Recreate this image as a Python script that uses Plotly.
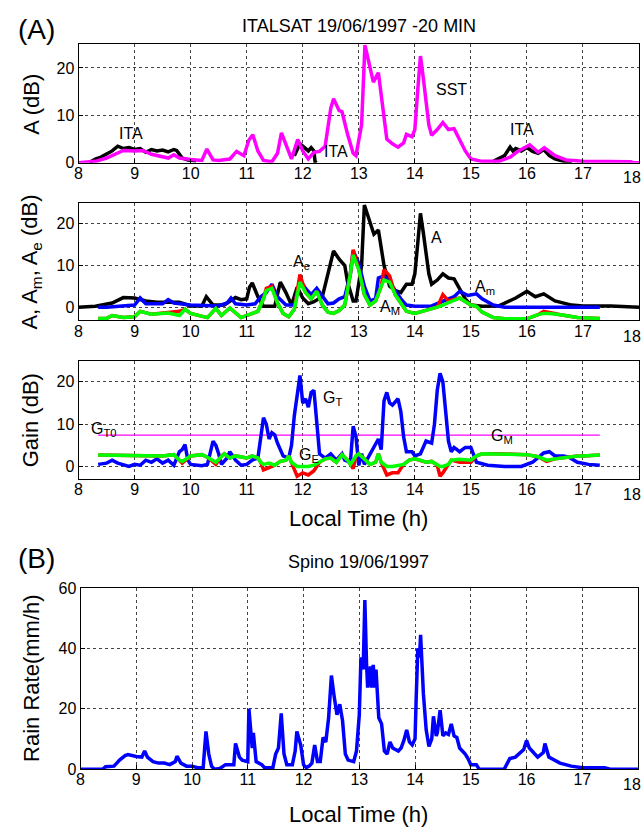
import plotly.graph_objects as go

W, H = 644, 834
F = "Liberation Sans, Arial, sans-serif"

# ---------------- data ----------------
# Panel 1: A (dB)
p1_sst_t = [8.0, 8.3, 8.5, 8.7, 8.8, 9.0, 9.15, 9.3, 9.5, 9.6, 9.7, 9.8, 10.0, 10.2, 10.29, 10.4, 10.5, 10.7, 10.82, 10.95,
            11.04, 11.11, 11.2, 11.3, 11.45, 11.55, 11.62, 11.7, 11.8, 11.91, 12.0, 12.1, 12.2, 12.3, 12.4, 12.5, 12.55, 12.65, 12.7, 12.8,
            12.9, 12.95, 13.05, 13.11, 13.2, 13.26, 13.35, 13.45, 13.5, 13.6, 13.7, 13.8, 13.85, 13.95, 14.0, 14.05, 14.1, 14.15, 14.25, 14.3,
            14.4, 14.5, 14.6, 14.7, 14.8, 14.9, 15.0, 15.2, 15.5, 15.7, 15.85, 16.0, 16.05, 16.2, 16.31, 16.5, 16.7, 17.0, 17.5, 17.85,
            17.9, 18.0]
p1_sst = [0.0, 0.3, 1.0, 2.0, 2.6, 2.5, 2.6, 1.8, 1.3, 1.0, 1.7, 1.0, 0.7, 0.5, 2.9, 0.6, 0.5, 0.8, 2.4, 1.5,
          4.8, 5.9, 2.5, 0.5, 0.2, 2.0, 6.3, 4.0, 0.8, 4.9, 2.5, 0.8, 2.2, 2.4, 3.5, 11.5, 13.5, 11.0, 10.8, 6.0,
          2.0, 1.5, 8.0, 24.8, 20.5, 17.0, 19.0, 10.0, 5.0, 4.0, 3.3, 4.2, 6.0, 5.5, 7.0, 15.0, 22.5, 18.0, 8.0, 5.8,
          7.0, 8.5, 7.0, 7.2, 5.0, 2.5, 0.8, 0.3, 0.3, 1.2, 2.5, 3.4, 3.8, 2.2, 3.2, 1.5, 0.6, 0.3, 0.2, 0.2,
          0.0, 0.0]
p1_ita_t = [8.2, 8.3, 8.4, 8.5, 8.6, 8.7, 8.8, 8.9, 9.0, 9.1, 9.2, 9.3, 9.4, 9.5, 9.6, 9.7, 9.75, 9.85, 9.95, 10.1, None,
            11.85, 11.95, 12.0, 12.05, 12.1, 12.15, 12.2, 12.22, 12.25, None,
            15.4, 15.6, 15.7, 15.75, 15.8, 15.9, 16.0, 16.1, 16.2, 16.3, 16.4, 16.5, 16.7, 16.8]
p1_ita = [0.1, 0.8, 1.2, 1.8, 2.5, 3.5, 3.0, 3.2, 2.8, 3.0, 2.2, 2.8, 2.5, 2.7, 2.3, 2.8, 2.6, 1.0, 0.6, 0.4, None,
          1.5, 4.0, 3.5, 3.0, 2.5, 3.2, 2.5, 0.2, 0.0, None,
          0.3, 1.5, 3.3, 2.5, 3.0, 2.5, 3.2, 2.4, 2.0, 2.8, 1.5, 0.8, 0.2, 0.0]

# Panel 2: A, Am, Ae, AM (dB)
p2_a_t = [8.0, 8.3, 8.6, 8.8, 9.0, 9.2, 9.4, 9.6, 9.8, 10.0, 10.2, 10.28, 10.4, 10.6, 10.8, 10.9, 11.0, 11.05, 11.1, 11.2,
          11.3, 11.5, 11.6, 11.7, 11.8, 11.9, 12.0, 12.1, 12.2, 12.35, 12.45, 12.55, 12.65, 12.75, 12.8, 12.9, 12.95, 13.05, 13.1, 13.2,
          13.27, 13.35, 13.45, 13.55, 13.65, 13.75, 13.85, 13.95, 14.0, 14.05, 14.1, 14.15, 14.25, 14.3, 14.4, 14.5, 14.6, 14.7, 14.8, 14.9,
          15.0, 15.2, 15.5, 15.8, 16.0, 16.15, 16.3, 16.5, 16.8, 17.0, 17.5, 17.8, 18.0]
p2_a = [0.0, 0.2, 1.0, 2.3, 2.2, 1.5, 1.2, 1.3, 1.2, 0.3, 0.3, 2.5, 0.5, 0.5, 2.3, 1.8, 2.0, 4.8, 5.8, 2.5,
        0.2, 0.2, 6.0, 3.5, 0.5, 4.8, 2.2, 0.8, 1.3, 2.5, 8.0, 13.5, 11.5, 10.0, 6.0, 1.5, 1.5, 10.0, 24.5, 20.5,
        17.5, 18.5, 10.0, 5.0, 4.0, 3.5, 5.5, 5.5, 8.0, 15.0, 22.5, 18.0, 8.0, 5.5, 6.5, 8.0, 7.0, 6.8, 4.5, 2.0,
        0.5, 0.2, 0.3, 2.2, 3.8, 2.5, 3.2, 1.5, 0.5, 0.3, 0.3, 0.2, 0.0]
p2_am_t = [8.35, 8.5, 9.0, 9.1, 9.2, 9.5, 9.6, 9.7, 10.0, 10.3, 10.5, 10.65, 10.72, 10.8, 11.0, 11.15, 11.25, 11.35, 11.45, 11.55,
           11.7, 11.85, 11.95, 12.05, 12.15, 12.25, 12.35, 12.45, 12.55, 12.65, 12.75, 12.85, 12.9, 13.0, 13.1, 13.2, 13.3, 13.35, 13.45, 13.55,
           13.65, 13.75, 13.85, 14.0, 14.3, 14.5, 14.7, 14.8, 14.95, 15.1, 15.2, 15.4, 15.6, 16.0, 17.3]
p2_am = [0.0, 0.0, 0.5, 2.2, 0.8, 0.8, 1.8, 1.0, 0.5, 0.3, 0.3, 1.0, 2.2, 0.8, 0.5, 0.8, 2.5, 3.5, 5.5, 2.5,
         0.5, 0.5, 6.5, 4.5, 3.0, 4.5, 2.5, 0.8, 1.0, 2.0, 2.5, 8.0, 13.5, 10.5, 5.0, 1.5, 2.0, 7.0, 7.5, 6.0,
         4.0, 2.0, 0.5, 0.2, 0.3, 1.5, 2.5, 3.8, 2.8, 3.2, 2.0, 0.5, 0.0, 0.0, 0.0]
p2_ge_t = [8.35, 8.5, 8.6, 8.8, 9.0, 9.1, 9.3, 9.6, 9.8, 9.9, 10.0, 10.3, 10.45, 10.55, 10.7, 10.9, 11.1, 11.2, 11.3, 11.35,
           11.45, 11.55, 11.65, 11.75, 11.85, 11.95, 12.05, 12.15, 12.25, 12.35, 12.45, 12.55, 12.65, 12.75, 12.85, 12.9, 13.0, 13.1, 13.2, 13.3,
           13.4, 13.45, 13.55, 13.65, 13.75, 13.85, 14.0, 14.2, 14.4, 14.5, 14.6, 14.8, 15.0, 15.1, 15.2, 15.4, 15.6, 16.0, 16.2, 16.3,
           16.4, 16.6, 16.9, 17.3]
p2_aM = [-2.7, -2.7, -2.0, -2.5, -2.3, -1.0, -1.7, -1.4, -2.0, -0.5, -1.5, -2.5, -0.3, -2.0, -0.2, -2.5, -1.5, -1.0, 2.0, 4.0,
         4.5, 1.0, -1.5, -2.3, -0.5, 6.0, 3.5, 2.0, 3.8, 0.5, -1.2, -1.5, -0.8, 0.5, 8.0, 12.5, 9.0, 3.0, 0.5, 1.5,
         5.0, 6.5, 6.0, 3.0, 1.0, -1.0, -1.5, -0.8, 0.0, 0.5, 1.0, 2.2, 0.5, 0.2, -1.2, -2.5, -2.8, -2.8, -1.8, -1.5,
         -1.5, -1.8, -2.5, -2.7]
p2_ae = [-2.7, -2.7, -2.0, -2.5, -2.3, -1.0, -1.7, -1.4, -1.0, -0.5, -1.5, -2.5, -0.3, -2.0, -0.2, -2.5, -1.5, -1.0, 2.0, 4.5,
         5.0, 1.0, -1.5, -2.3, -0.5, 7.8, 3.5, 2.0, 3.8, 0.5, -1.2, -1.5, -0.8, 0.5, 8.0, 13.8, 9.0, 3.0, 0.5, 1.5,
         5.0, 9.0, 7.5, 3.0, 1.0, -1.0, -1.5, -0.8, 0.0, 3.0, 1.5, 2.2, 0.5, 0.2, -1.2, -2.5, -2.8, -2.8, -1.8, -1.0,
         -1.2, -1.8, -2.5, -2.7]

# Panel 3: Gain (dB)
p3_gt_t = [8.35, 8.5, 8.6, 8.7, 8.9, 9.0, 9.1, 9.2, 9.3, 9.4, 9.5, 9.6, 9.7, 9.8, 9.85, 9.9, 9.95, 10.0, 10.2, 10.3,
           10.4, 10.45, 10.5, 10.55, 10.65, 10.7, 10.8, 10.9, 11.0, 11.1, 11.2, 11.25, 11.3, 11.35, 11.4, 11.45, 11.5, 11.55, 11.65, 11.75,
           11.8, 11.85, 11.9, 11.95, 12.0, 12.05, 12.1, 12.15, 12.2, 12.25, 12.3, 12.4, 12.5, 12.6, 12.7, 12.75, 12.85, 12.9, 12.95, 13.0,
           13.05, 13.1, 13.2, 13.3, 13.35, 13.4, 13.45, 13.5, 13.55, 13.6, 13.7, 13.75, 13.8, 13.85, 13.95, 14.0, 14.1, 14.2, 14.3, 14.35,
           14.4, 14.45, 14.5, 14.55, 14.6, 14.65, 14.7, 14.8, 14.9, 15.0, 15.05, 15.1, 15.3, 15.6, 15.9, 16.1, 16.3, 16.4, 16.5, 16.65,
           16.75, 16.9, 17.1, 17.3]
p3_gt = [0.5, 0.8, 1.5, 0.8, 0.0, 0.5, 0.3, 1.5, 1.0, 1.8, 0.8, 1.5, 0.3, 3.5, 4.0, 5.2, 1.5, 0.5, 0.2, 0.5,
         6.0, 5.0, 3.0, 0.5, 2.0, 3.5, 1.5, 0.3, 0.5, 1.5, 2.0, 7.0, 11.5, 10.0, 6.5, 8.0, 7.5, 5.5, 2.5, 2.0,
         5.0, 12.0, 17.0, 21.5, 15.0, 16.0, 14.0, 17.5, 18.0, 11.0, 3.0, 2.0, 3.0, 1.5, 3.0, 1.5, 1.0, 9.5, 7.0, 0.3,
         3.0, 0.5, 3.0, 5.5, 6.5, 4.0, 15.5, 17.5, 15.0, 14.5, 16.0, 13.0, 7.0, 3.5, 3.5, 2.5, 3.0, 6.0, 5.5, 10.0,
         18.0, 22.0, 20.0, 13.0, 6.0, 3.5, 4.5, 3.5, 4.5, 4.5, 3.0, 1.0, 0.3, 0.0, 0.0, 1.0, 3.2, 3.5, 2.5, 2.5,
         2.2, 1.0, 0.5, 0.3]
p3_g_t = [8.35, 8.6, 9.0, 9.5, 9.7, 9.8, 9.85, 10.0, 10.2, 10.3, 10.45, 10.55, 10.6, 10.7, 10.8, 11.0, 11.1, 11.2, 11.25, 11.3,
          11.4, 11.5, 11.6, 11.7, 11.75, 11.8, 11.9, 12.0, 12.1, 12.2, 12.3, 12.4, 12.5, 12.6, 12.7, 12.8, 12.85, 12.9, 12.95, 13.0,
          13.1, 13.2, 13.3, 13.35, 13.4, 13.5, 13.6, 13.7, 13.8, 13.9, 14.0, 14.1, 14.2, 14.3, 14.4, 14.45, 14.5, 14.6, 14.65, 14.8,
          15.0, 15.1, 15.2, 15.5, 15.8, 16.0, 16.2, 16.35, 16.5, 16.7, 16.9, 17.0, 17.3]
p3_gm = [2.7, 2.7, 2.6, 2.5, 2.8, 1.5, 1.2, 2.5, 2.8, 2.2, 1.0, 2.5, 3.0, 2.0, 2.5, 2.0, 2.5, 2.0, 1.0, 0.5,
         0.8, 0.3, 1.2, 1.5, 2.5, 1.0, 0.0, 0.0, 0.0, 0.3, 1.0, 1.8, 2.0, 1.0, 2.8, 1.5, 0.5, 1.5, 2.5, 3.0,
         1.8, 0.5, 1.0, 3.0, 1.0, 0.0, 0.0, 0.3, 0.5, 1.5, 1.8, 1.5, 1.0, 1.2, 0.3, 0.0, 0.0, 0.5, 1.5, 1.7,
         1.5, 2.5, 3.0, 3.0, 3.0, 2.8, 2.3, 1.5, 1.8, 2.2, 2.5, 2.5, 2.7]
p3_ge = [2.7, 2.7, 2.6, 2.5, 2.8, 1.5, 0.8, 2.5, 2.8, 2.2, 0.5, 2.5, 3.0, 2.0, 2.5, 2.0, 2.5, 2.0, 1.0, -0.8,
         -0.2, 0.3, 1.2, 1.5, 2.5, 1.0, -2.3, -1.5, -2.0, -1.0, 1.0, 1.8, 2.0, 1.0, 2.8, 1.5, 0.5, -0.5, 2.5, 3.0,
         1.8, 0.5, 1.0, 3.0, 1.0, -2.0, -1.5, -1.5, 0.5, 1.5, 1.8, 1.5, 1.0, 1.2, 0.3, -2.3, -1.5, 0.5, 1.5, 1.0,
         1.0, 2.5, 3.0, 3.0, 3.0, 2.8, 2.3, 1.2, 1.8, 2.2, 2.5, 2.5, 2.7]
p3_gt0_t = [8.35, 17.3]
p3_gt0 = [7.4, 7.4]

# Panel 4: rain rate (mm/h)
p4_t = [8.0, 8.4, 8.45, 8.6, 8.65, 8.7, 8.8, 8.85, 9.0, 9.1,
        9.15, 9.2, 9.3, 9.4, 9.5, 9.6, 9.65, 9.7, 9.73, 9.8,
        9.9, 10.0, 10.1, 10.2, 10.25, 10.3, 10.35, 10.4, 10.5, 10.6,
        10.75, 10.78, 10.85, 10.9, 11.0, 11.02, 11.08, 11.1, 11.15, 11.25,
        11.3, 11.45, 11.5, 11.55, 11.6, 11.65, 11.7, 11.8, 11.85, 11.88,
        11.95, 12.0, 12.05, 12.1, 12.15, 12.2, 12.25, 12.3, 12.35, 12.4,
        12.45, 12.5, 12.55, 12.6, 12.65, 12.7, 12.75, 12.8, 12.9, 12.95,
        13.0, 13.03, 13.07, 13.1, 13.13, 13.15, 13.2, 13.22, 13.25, 13.28,
        13.3, 13.33, 13.35, 13.4, 13.45, 13.5, 13.55, 13.6, 13.7, 13.75,
        13.8, 13.85, 13.9, 13.95, 14.0, 14.02, 14.05, 14.08, 14.1, 14.15,
        14.2, 14.25, 14.3, 14.33, 14.38, 14.4, 14.45, 14.5, 14.55, 14.6,
        14.65, 14.7, 14.75, 14.8, 14.9, 14.95, 15.0, 15.1, 15.15, 15.6,
        15.7, 15.8, 15.9, 15.95, 16.0, 16.05, 16.1, 16.2, 16.3, 16.33,
        16.4, 16.5, 16.6, 16.8, 17.0, 17.4, 17.5, 18.0]
p4_r = [0, 0, 0.8, 1, 2, 3, 4.5, 4.8, 4.2, 4,
        6, 4, 2.5, 2, 2, 1.5, 2, 2.5, 4.3, 2,
        1, 1, 0.5, 0.5, 12.5, 5, 1, 0, 0.2, 1.5,
        1.5, 8.5, 4, 3, 2.5, 20, 7, 12, 2.5, 1.5,
        0.5, 0.5, 5, 7, 18.5, 5, 1.5, 1.5, 6, 12.5,
        8, 1.5, 0.5, 1, 2, 8, 2.5, 2.5, 10.5, 9,
        17, 31, 24, 18, 21.5, 16, 5, 3, 2.5, 6,
        18, 37, 33, 56, 35, 27, 34, 27, 34.5, 27,
        33, 23, 17, 15, 6, 5, 9, 7, 6, 7,
        9.5, 13, 9, 8, 10, 23, 40, 37, 44.5, 25,
        13, 7.5, 10, 17.5, 11, 12, 19.5, 11, 12, 11.5,
        15, 11, 10.5, 7, 5, 3.5, 1.5, 1.5, 0, 0,
        3.5, 4, 5.5, 6.5, 9.5, 7, 6, 4, 5.5, 8.5,
        4, 3, 2, 1, 0.5, 0.5, 0, 0]

x_ticks = list(range(8, 19))
x_last_label = "18"
y_ticks_db = [0, 10, 20]
y_ticks_rain = [0, 20, 40, 60]

# ---------------- figure ----------------
BLACK, MAG, BLUE, RED, GREEN = "#000000", "#ff00ff", "#0000ff", "#ff0000", "#00ff00"
LW = 3.5

fig = go.Figure()


def line(x, y, color, ax, width=LW):
    fig.add_trace(go.Scatter(x=x, y=y, mode="lines", line=dict(color=color, width=width),
                             xaxis="x" + ax, yaxis="y" + ax, showlegend=False, hoverinfo="skip",
                             connectgaps=False))


line(p1_ita_t, p1_ita, BLACK, "")
line(p1_sst_t, p1_sst, MAG, "")

line(p2_a_t, p2_a, BLACK, "2")
line(p2_am_t, p2_am, BLUE, "2")
line(p2_ge_t, p2_ae, RED, "2")
line(p2_ge_t, p2_aM, GREEN, "2")

line(p3_gt0_t, p3_gt0, MAG, "3", width=1.2)
line(p3_gt_t, p3_gt, BLUE, "3")
line(p3_g_t, p3_ge, RED, "3")
line(p3_g_t, p3_gm, GREEN, "3")

line(p4_t, p4_r, BLUE, "4")


def py(p):
    return 1 - p / H


def xax(dom, anchor):
    return dict(domain=dom, range=[8, 18], anchor=anchor, tickmode="array", tickvals=x_ticks,
                showline=True, mirror=True, linecolor="black", linewidth=1,
                showgrid=True, gridcolor="#444444", griddash="dot", gridwidth=1,
                ticks="inside", ticklen=4, tickcolor="black", zeroline=False,
                tickfont=dict(family=F, size=16, color="black"), ticklabelstandoff=-4)


def yax(dom, rng, tv, anchor):
    return dict(domain=dom, range=rng, anchor=anchor, tickmode="array", tickvals=tv,
                showline=True, mirror=True, linecolor="black", linewidth=1,
                showgrid=True, gridcolor="#444444", griddash="dot", gridwidth=1,
                ticks="inside", ticklen=4, tickcolor="black", zeroline=False,
                tickfont=dict(family=F, size=16, color="black"))


xd = [75 / W, 639 / W]
xd4 = [77 / W, 638 / W]
fig.update_layout(
    width=W, height=H, margin=dict(l=0, r=0, t=0, b=0),
    paper_bgcolor="white", plot_bgcolor="white", showlegend=False,
    xaxis=xax(xd, "y"), yaxis=yax([py(158), py(37)], [0, 25], y_ticks_db, "x"),
    xaxis2=xax(xd, "y2"), yaxis2=yax([py(319), py(199)], [-3.2, 25], y_ticks_db, "x2"),
    xaxis3=xax(xd, "y3"), yaxis3=yax([py(481), py(360)], [-3, 25], y_ticks_db, "x3"),
    xaxis4=xax(xd4, "y4"), yaxis4=yax([py(777), py(592)], [0, 60], y_ticks_rain, "x4"),
)

ann = []


def paper_text(text, xp, yp, size, angle=0, xanchor="center"):
    ann.append(dict(text=text, x=xp / W, y=py(yp), xref="paper", yref="paper", showarrow=False,
                    xanchor=xanchor, yanchor="middle", textangle=angle,
                    font=dict(family=F, size=size, color="black")))


def data_text(text, x, y, ax, size=16):
    ann.append(dict(text=text, x=x, y=y, xref="x" + ax, yref="y" + ax, showarrow=False,
                    xanchor="center", yanchor="middle", font=dict(family=F, size=size, color="black")))


paper_text("(A)", 33, 22, 28)
paper_text("ITALSAT 19/06/1997 -20 MIN", 357, 18, 18)
paper_text("(B)", 33, 562, 28)
paper_text("Spino 19/06/1997", 357, 566, 18)
paper_text("A (dB)", 27, 98, 22, -90)
paper_text("A, A<sub>m</sub>, A<sub>e</sub> (dB)", 27, 259, 22, -90)
paper_text("Gain (dB)", 27, 421, 22, -90)
paper_text("Rain Rate(mm/h)", 27, 684, 22, -90)
paper_text("Local Time (h)", 357, 521, 22)
paper_text("Local Time (h)", 357, 823, 22)

# the right-most "18" tick label sits on the page edge (hidden by plotly), drawn here instead
for yl in (173, 335, 497, 793):
    paper_text(x_last_label, W - 1, yl, 16, xanchor="right")

data_text("ITA", 8.93, 6.2, "")
data_text("ITA", 12.6, 2.4, "")
data_text("SST", 14.65, 15.5, "")
data_text("ITA", 15.92, 7.0, "")

data_text("A<sub>e</sub>", 11.97, 10.8, "2")
data_text("A", 14.38, 16.7, "2")
data_text("A<sub>m</sub>", 15.25, 4.6, "2")
data_text("A<sub>M</sub>", 13.55, 0.0, "2")

data_text("G<sub>T0</sub>", 8.45, 8.8, "3")
data_text("G<sub>T</sub>", 12.53, 16.0, "3")
data_text("G<sub>E</sub>", 12.12, 2.6, "3")
data_text("G<sub>M</sub>", 15.55, 7.0, "3")

fig.update_layout(annotations=ann)
fig.write_html("out.html")
